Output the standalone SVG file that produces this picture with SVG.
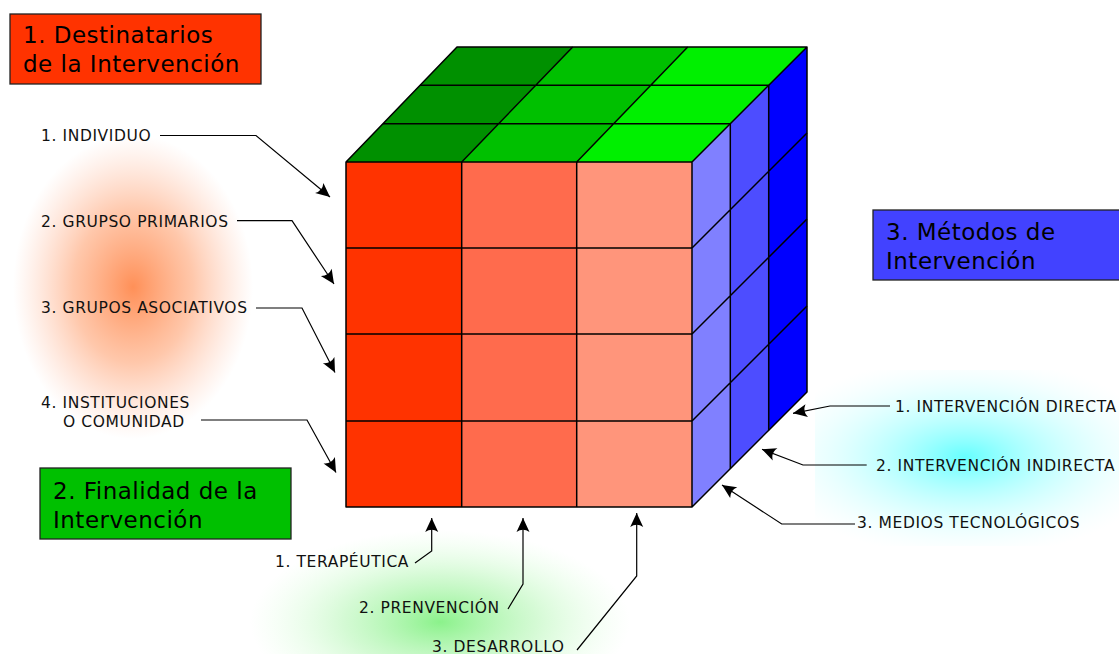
<svg xmlns="http://www.w3.org/2000/svg" width="1119" height="654" viewBox="0 0 1119 654">
  <defs>
    <radialGradient id="glowOrange" cx="0.5" cy="0.5" r="0.5">
      <stop offset="0" stop-color="#ff8a4f" stop-opacity="0.95"/>
      <stop offset="0.5" stop-color="#ff9a66" stop-opacity="0.55"/>
      <stop offset="1" stop-color="#ffb090" stop-opacity="0"/>
    </radialGradient>
    <radialGradient id="glowGreen" cx="0.5" cy="0.5" r="0.5">
      <stop offset="0" stop-color="#7ef07e" stop-opacity="0.9"/>
      <stop offset="0.5" stop-color="#a8f5a8" stop-opacity="0.5"/>
      <stop offset="1" stop-color="#d0ffd0" stop-opacity="0"/>
    </radialGradient>
    <radialGradient id="glowCyan" cx="965" cy="457" r="200" gradientUnits="userSpaceOnUse" gradientTransform="translate(965 457) scale(1 0.5) translate(-965 -457)">
      <stop offset="0" stop-color="#66ffff" stop-opacity="1"/>
      <stop offset="0.5" stop-color="#aaffff" stop-opacity="0.55"/>
      <stop offset="1" stop-color="#e0ffff" stop-opacity="0"/>
    </radialGradient>
    <marker id="arrow" viewBox="-16 -8 18 16" refX="0" refY="0" markerWidth="18" markerHeight="16" markerUnits="userSpaceOnUse" orient="auto">
      <path d="M0,0 L-14,-6.5 Q-9.5,0 -14,6.5 Z" fill="#000"/>
    </marker>
  </defs>
  <style>
    .title { font-family: "DejaVu Sans", Verdana, sans-serif; font-size: 23px; letter-spacing: 0.5px; fill: #000; }
    .label { font-family: "DejaVu Sans", Verdana, sans-serif; font-size: 15.5px; letter-spacing: 0.6px; fill: #111; }
    .box { stroke: #222; stroke-width: 1.3; }
    .edge { fill: none; stroke: #000; stroke-width: 1.5; stroke-linejoin: round; }
    .conn { fill: none; stroke: #000; stroke-width: 1.2; marker-end: url(#arrow); }
  </style>

  <rect width="1119" height="654" fill="#fff"/>

  <!-- soft background glows behind the label groups -->
  <ellipse cx="133" cy="287" rx="120" ry="152" fill="url(#glowOrange)"/>
  <ellipse cx="440" cy="622" rx="190" ry="92" fill="url(#glowGreen)"/>
  <rect x="815" y="370" width="304" height="176" fill="url(#glowCyan)"/>

  <!-- cube -->
  <g id="cube">
    <!-- front face columns -->
    <rect x="346" y="162" width="115.7" height="345" fill="#ff3300"/>
    <rect x="461.7" y="162" width="115" height="345" fill="#ff6b4d"/>
    <rect x="576.7" y="162" width="115.3" height="345" fill="#ff957b"/>
    <!-- top face columns -->
    <polygon points="346,162 461.7,162 572.7,47 457,47" fill="#009000"/>
    <polygon points="461.7,162 576.7,162 687.7,47 572.7,47" fill="#00c000"/>
    <polygon points="576.7,162 692,162 807,47 687.7,47" fill="#00f000"/>
    <!-- right face depth slices -->
    <polygon points="692,162 730.3,123.7 730.3,468.7 692,507" fill="#8080ff"/>
    <polygon points="730.3,123.7 768.7,85.3 768.7,430.3 730.3,468.7" fill="#4d4dff"/>
    <polygon points="768.7,85.3 807,47 807,392 768.7,430.3" fill="#0000ff"/>
    <!-- grid lines -->
    <path class="edge" d="M346,248 H692 M346,334 H692 M346,421 H692 M461.7,162 V507 M576.7,162 V507"/>
    <path class="edge" d="M383,123.7 H730.3 M420,85.3 H768.7 M461.7,162 L572.7,47 M576.7,162 L687.7,47"/>
    <path class="edge" d="M692,248 L807,133 M692,334 L807,219 M692,421 L807,306 M730.3,123.7 V468.7 M768.7,85.3 V430.3"/>
    <!-- outline -->
    <path class="edge" d="M346,162 L457,47 H807 V392 L692,507 H346 Z M346,162 H692 L807,47 M692,162 V507"/>
  </g>

  <!-- heading boxes -->
  <g id="box-destinatarios">
    <rect class="box" x="10" y="14" width="251" height="70" fill="#ff3300"/>
    <text class="title" x="23" y="43">1. Destinatarios</text>
    <text class="title" x="23" y="72">de la Intervención</text>
  </g>
  <g id="box-finalidad">
    <rect class="box" x="40" y="468" width="251" height="71" fill="#00c000"/>
    <text class="title" x="53" y="499">2. Finalidad de la</text>
    <text class="title" x="53" y="528">Intervención</text>
  </g>
  <g id="box-metodos">
    <rect class="box" x="873" y="210" width="252" height="70" fill="#4242ff"/>
    <text class="title" x="886" y="240">3. Métodos de</text>
    <text class="title" x="886" y="269">Intervención</text>
  </g>

  <!-- labels -->
  <g id="lbl-individuo"><text class="label" x="41" y="141">1. INDIVIDUO</text></g>
  <g id="lbl-primarios"><text class="label" x="41" y="227">2. GRUPSO PRIMARIOS</text></g>
  <g id="lbl-asociativos"><text class="label" x="41" y="313">3. GRUPOS ASOCIATIVOS</text></g>
  <g id="lbl-instituciones">
    <text class="label" x="41" y="408">4. INSTITUCIONES</text>
    <text class="label" x="63" y="427">O COMUNIDAD</text>
  </g>
  <g id="lbl-terapeutica"><text class="label" x="275" y="567">1. TERAPÉUTICA</text></g>
  <g id="lbl-prevencion"><text class="label" x="359" y="613">2. PRENVENCIÓN</text></g>
  <g id="lbl-desarrollo"><text class="label" x="432" y="652">3. DESARROLLO</text></g>
  <g id="lbl-directa"><text class="label" x="895" y="412">1. INTERVENCIÓN DIRECTA</text></g>
  <g id="lbl-indirecta"><text class="label" x="876" y="471">2. INTERVENCIÓN INDIRECTA</text></g>
  <g id="lbl-medios"><text class="label" x="857" y="528">3. MEDIOS TECNOLÓGICOS</text></g>

  <!-- connectors -->
  <g id="connectors">
    <path class="conn" d="M160,135.5 H256 L330,197"/>
    <path class="conn" d="M237,220.7 H292 L334,284"/>
    <path class="conn" d="M256,308 H302 L335,372.5"/>
    <path class="conn" d="M201,420 H307 L336,472.5"/>
    <path class="conn" d="M415,563 L431.7,551 V518"/>
    <path class="conn" d="M508,609 L523,584 V518"/>
    <path class="conn" d="M577,650 L636.7,576 V513"/>
    <path class="conn" d="M890,406 H830 L793,413.3"/>
    <path class="conn" d="M866.7,465 H803 L762,449.3"/>
    <path class="conn" d="M855,524 H781.7 L722,485"/>
  </g>
</svg>
